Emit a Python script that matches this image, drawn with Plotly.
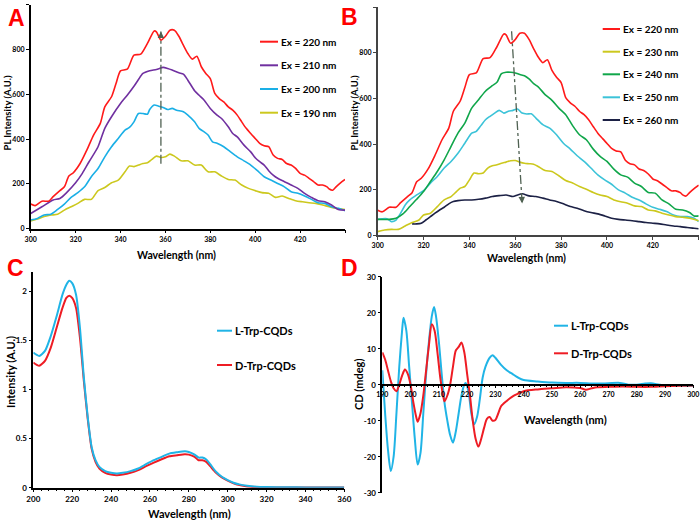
import plotly.graph_objects as go

W, H = 700, 526
FONT = "Lato"

# ---------------- Panel A / B : PL spectra (wavelength nm, intensity) ----------------
ex220 = [(300,110),(302,103),(305,123),(308,123),(310,143),(313,170),(315,187),(317,235),(319,250),
         (322,291),(325,351),(328,418),(331,470),(333,544),(336,589),(338,648),(340,705),(343,712),
         (346,775),(349,779),(352,827),(355,883),(356,879),(358,842),(360,859),(362,886),(364,886),
         (366,859),(368,819),(370,782),(372,757),(374,770),(376,723),(378,693),(380,670),(382,604),
         (384,581),(386,566),(388,544),(390,529),(392,507),(394,477),(396,448),(398,425),(400,403),
         (402,381),(404,370),(406,366),(408,329),(410,314),(412,309),(414,291),(416,284),(418,269),
         (420,247),(422,239),(424,225),(426,210),(428,195),(430,195),(432,187),(433,177),(434.5,172),
         (436,187),(438,205),(440,220)]
ex210 = [(300,68),(305,98),(310,128),(313,135),(316,161),(320,205),(323,247),(326,299),(330,366),
         (333,448),(336,500),(340,559),(343,596),(346,636),(348,666),(350,693),(353,705),(356,711),
         (359,720),(361,715),(363,708),(366,696),(368,690),(370,663),(373,616),(375,596),(377,577),
         (380,537),(383,507),(385,492),(388,455),(390,425),(392,410),(395,373),(398,343),(400,317),
         (402,299),(404,284),(406,259),(408,239),(410,225),(413,210),(416,195),(419,180),(422,158),
         (425,140),(428,125),(431,120),(434,106),(437,86),(440,83)]
ex200 = [(300,39),(303,46),(306,61),(309,65),(312,86),(315,110),(318,140),(321,161),(324,187),
         (327,232),(330,269),(333,321),(336,366),(339,403),(342,440),(344,452),(346,477),(348,514),
         (350,514),(352,511),(353,532),(355,552),(357,547),(359,541),(361,532),(363,537),(365,529),
         (368,522),(370,507),(373,477),(375,448),(377,434),(379,418),(381,388),(383,381),(386,366),
         (389,343),(392,321),(395,303),(398,284),(401,259),(404,232),(407,217),(410,202),(413,187),
         (416,165),(419,158),(422,146),(425,131),(428,116),(431,113),(434,98),(437,91),(440,80)]
ex190 = [(300,34),(303,43),(306,54),(309,61),(312,64),(315,83),(318,98),(321,113),(324,131),
         (327,131),(330,170),(333,184),(336,205),(339,217),(342,254),(344,280),(346,277),(348,284),
         (350,291),(352,294),(354,309),(356,324),(358,318),(360,321),(362,333),(364,324),(367,303),
         (370,303),(373,284),(376,284),(379,254),(382,254),(385,235),(388,220),(391,217),(394,195),
         (397,180),(400,170),(403,161),(406,158),(409,140),(412,146),(415,135),(418,125),(421,120),
         (424,116),(427,113),(430,106),(433,98),(436,91),(440,86)]
ex240 = [(300,70),(305,70),(308,75),(311,94),(314,126),(317,158),(320,192),(323,236),(326,280),
         (329,331),(332,390),(335,448),(338,492),(341,558),(344,595),(347,632),(350,656),(352,671),
         (354,709),(356,715),(358,715),(360,712),(362,705),(364,700),(366,686),(368,665),(370,651),
         (373,617),(376,592),(379,558),(382,529),(385,481),(388,441),(391,419),(394,378),(397,346),
         (400,324),(403,290),(406,265),(409,255),(412,229),(415,214),(418,188),(421,185),(424,155),
         (427,138),(430,114),(433,111),(436,100),(438,85),(440,85)]
ex250 = [(300,70),(304,73),(306,60),(308,67),(310,97),(312,133),(314,155),(317,177),(320,196),
         (323,229),(326,258),(329,295),(332,324),(335,360),(338,404),(341,448),(343,456),(345,481),
         (347,507),(349,522),(351,536),(353,548),(355,536),(357,544),(359,548),(361,554),(363,536),
         (365,532),(367,533),(369,514),(372,485),(375,470),(378,441),(381,404),(384,378),(387,349),
         (390,324),(393,295),(396,265),(399,243),(402,224),(405,199),(408,185),(411,167),(414,155),
         (417,138),(420,123),(423,114),(426,104),(429,89),(432,82),(435,82),(438,75),(440,60)]
ex230 = [(300,16),(303,23),(306,26),(309,26),(312,41),(315,56),(318,67),(320,89),(323,97),
         (326,126),(329,155),(332,170),(334,188),(336,207),(338,214),(340,243),(342,273),(344,270),
         (346,273),(348,295),(350,305),(352,309),(354,316),(356,321),(358,327),(360,328),(362,321),
         (364,316),(366,314),(368,312),(370,302),(373,284),(376,280),(379,261),(382,240),(385,229),
         (388,214),(391,202),(394,188),(397,177),(400,170),(403,155),(406,147),(409,141),(412,129),
         (415,126),(418,111),(421,107),(424,97),(427,89),(430,82),(433,79),(436,75),(440,64)]
ex260 = [(315,50),(317,50),(319,53),(321,67),(323,82),(325,97),(327,111),(329,123),(331,138),
         (333,148),(335,152),(338,155),(341,155),(344,158),(347,163),(350,170),(353,174),(356,177),
         (359,170),(361,177),(363,182),(366,173),(369,170),(372,163),(375,155),(378,148),(381,138),
         (384,126),(387,119),(390,108),(393,100),(396,94),(399,85),(402,75),(405,70),(408,67),
         (411,64),(414,60),(417,56),(420,53),(423,50),(426,45),(429,41),(432,38),(435,34),(438,31),
         (440,29)]

# dash-dot guide arrows (wavelength, intensity): start -> arrow tip
arrow_A = [(358, 290), (358, 880)]
arrow_B = [(358.4, 895), (363, 140)]

# ---------------- Panel C : absorbance ----------------
abs_L = [(200,1.376),(203,1.342),(206,1.393),(209,1.545),(212,1.747),(215,1.966),(217,2.067),
         (218.5,2.108),(220,2.084),(222,1.966),(224,1.629),(226,1.123),(228,0.718),(230,0.415),
         (232,0.28),(234,0.212),(237,0.169),(240,0.152),(243,0.145),(246,0.152),(250,0.169),
         (254,0.196),(258,0.239),(262,0.28),(266,0.314),(270,0.347),(274,0.361),(278,0.371),
         (280,0.364),(283,0.337),(285,0.307),(287,0.307),(289,0.287),(291,0.239),(294,0.162),
         (297,0.111),(300,0.078),(303,0.051),(306,0.034),(310,0.02),(315,0.01),(320,0.007),
         (330,0.004),(340,0.003),(360,0.003)]
abs_D = [(200,1.275),(203,1.241),(206,1.292),(209,1.427),(212,1.629),(215,1.831),(217,1.933),
         (218.5,1.956),(220,1.933),(222,1.831),(224,1.528),(226,1.089),(228,0.701),(230,0.398),
         (232,0.263),(234,0.196),(237,0.152),(240,0.135),(243,0.128),(246,0.135),(250,0.152),
         (254,0.179),(258,0.219),(262,0.256),(266,0.29),(270,0.32),(274,0.331),(278,0.341),
         (280,0.337),(283,0.314),(285,0.28),(287,0.28),(289,0.263),(291,0.219),(294,0.152),
         (297,0.105),(300,0.071),(303,0.044),(306,0.027),(310,0.013),(315,0.007),(320,0.003),
         (330,0.003),(340,0.003),(360,0.003)]

# ---------------- Panel D : CD ----------------
cd_L = [(190,4),(191,-8),(192,-18),(193,-24),(194,-20),(195,-8),(196,5),(197,15),(197.5,18.6),
        (198.5,15),(199.5,5),(200.5,-5),(201.5,-15),(202.5,-22.2),(203.5,-19),(204.5,-8),(205.5,3),
        (206.5,12),(207.5,19),(208.3,21.6),(209,19),(210,12),(211,3),(212,-5),(213,-10),(214,-14),
        (215,-16.1),(216,-13),(217,-8),(218,-3),(219,0),(219.5,0.5),(220.5,-2),(221.5,-8),
        (222.5,-11),(223.5,-9),(224.5,-4),(225.5,2),(226.5,5),(228,7.5),(229,8.2),(230,7.5),
        (232,5.5),(234,4),(236,3),(238,2),(240,1.3),(245,0.9),(250,0.6),(255,0.5),(260,0.5),
        (265,0.3),(270,0.4),(274,0.5),(277,0),(280,0),(283,0.3),(285,0.4),(288,0),(290,-0.2),
        (295,-0.2),(300,-0.3)]
cd_D = [(190,9),(191,7),(192,4),(193,1),(194,-1),(195,-1.8),(196,0),(197,2.5),(198,4.2),(199,3),
        (200,0),(201,-5),(202,-9),(202.5,-10.3),(203.5,-8),(204.5,-3),(205.5,4),(206.5,11),
        (207.5,16.8),(208.5,15),(209.5,9),(210.5,2),(211.5,-3),(212,-4.6),(213,-3),(214,0),(215,5),
        (216,9.5),(217,10.5),(218,11.7),(219,9),(220,3),(221,-3),(222,-10),(223,-15),(224,-17.2),
        (225,-15),(226,-12),(227,-9.5),(228,-9),(229,-10),(230,-9.8),(231,-8),(232,-6),(234,-4.5),
        (236,-3.3),(238,-2.5),(240,-1.8),(245,-1.3),(250,-1),(255,-0.7),(258,-0.8),(260,-0.9),
        (262,-1.4),(264,-1),(266,-0.7),(270,-0.6),(275,-0.5),(280,-0.6),(285,-0.6),(290,-0.4),
        (295,-0.3),(300,-0.2)]

# colours
RED = "#FF1A1A"
PURPLE = "#7030A0"
BLUE = "#1AAFE6"
YELLOW = "#CCC81E"
GREEN = "#10A64A"
CYAN = "#3CC3D8"
NAVY = "#1C2145"
L_BLUE = "#20B4E6"
D_RED = "#EE1C24"
GUIDE = "#4F6152"

fig = go.Figure()


def xs(d):
    return [p[0] for p in d]


def ys(d):
    return [p[1] for p in d]


def add(d, color, xa, ya, width, sm=0.7):
    fig.add_trace(go.Scatter(x=xs(d), y=ys(d), mode="lines",
                             line=dict(color=color, width=width, shape="spline", smoothing=sm),
                             xaxis=xa, yaxis=ya, showlegend=False, hoverinfo="skip"))


# panel A (draw bottom to top)
add(ex190, YELLOW, "x", "y", 1.6)
add(ex200, BLUE, "x", "y", 1.6)
add(ex210, PURPLE, "x", "y", 1.6)
add(ex220, RED, "x", "y", 1.6)
# panel B
add(ex260, NAVY, "x2", "y2", 1.6)
add(ex250, CYAN, "x2", "y2", 1.6)
add(ex230, YELLOW, "x2", "y2", 1.6)
add(ex240, GREEN, "x2", "y2", 1.6)
add(ex220, RED, "x2", "y2", 1.6)
# panel C
add(abs_D, D_RED, "x3", "y3", 2.0, 0.6)
add(abs_L, L_BLUE, "x3", "y3", 2.0, 0.6)
# panel D
add(cd_L, L_BLUE, "x4", "y4", 2.0, 0.8)
add(cd_D, D_RED, "x4", "y4", 2.0, 0.8)


def px(x):
    return x / W


def py(y):
    return 1 - y / H


tickfont_small = dict(family=FONT, size=7, color="black", weight="bold")
tickfont_mid = dict(family=FONT, size=8, color="black", weight="bold")


def axis(dom, rng, tickvals, ticktext, font, anchor, linecolor="black", **kw):
    d = dict(domain=dom, range=rng, tickvals=tickvals, ticktext=ticktext, tickfont=font,
             showgrid=False, zeroline=False, showline=True, linecolor=linecolor, linewidth=1.5,
             ticks="outside", ticklen=3, tickwidth=1, tickcolor=linecolor, anchor=anchor,
             automargin=False, fixedrange=True)
    d.update(kw)
    return d


wlAB = [300, 320, 340, 360, 380, 400, 420, 440]
wlAB_txt = ["300", "320", "340", "360", "380", "400", "420", ""]
plv = [0, 200, 400, 600, 800, 1000]
plt = ["0", "200", "400", "600", "800", ""]

fig.update_layout(
    width=W, height=H, margin=dict(l=0, r=0, t=0, b=0),
    paper_bgcolor="white", plot_bgcolor="white", showlegend=False,
    xaxis=axis([px(30.7), px(345)], [300, 440], wlAB, wlAB_txt, tickfont_small, "y"),
    yaxis=axis([py(228.7), py(4.7)], [0, 1000], plv, plt, tickfont_small, "x"),
    xaxis2=axis([px(377.7), px(698.7)], [300, 440], wlAB, wlAB_txt, tickfont_small, "y2",
                linecolor="#444444"),
    yaxis2=axis([py(235.3), py(7.3)], [0, 1000], plv, plt, tickfont_small, "x2",
                linecolor="#444444"),
    xaxis3=axis([px(33.3), px(344.3)], [200, 360], [200, 220, 240, 260, 280, 300, 320, 340, 360],
                ["200", "220", "240", "260", "280", "300", "320", "340", "360"], tickfont_mid, "y3",
                minor=dict(ticks="outside", dtick=4, ticklen=2, tickcolor="black")),
    yaxis3=axis([py(487.7), py(271.7)], [0, 2.2], [0, 0.5, 1, 1.5, 2], ["0", "0.5", "1", "1.5", "2"],
                tickfont_mid, "x3"),
    xaxis4=axis([px(382.3), px(693.3)], [190, 300], list(range(190, 301, 10)),
                [str(v) for v in range(190, 301, 10)], tickfont_small, "free",
                position=py(384.7),
                minor=dict(ticks="outside", dtick=2, ticklen=2, tickcolor="black")),
    yaxis4=axis([py(492.7), py(276.7)], [-30, 30], [-30, -20, -10, 0, 10, 20, 30],
                ["-30", "-20", "-10", "0", "10", "20", "30"], tickfont_mid, "x4"),
)

# guide arrows (dash-dot line + arrow head)
for (a, xr, yr) in [(arrow_A, "x", "y"), (arrow_B, "x2", "y2")]:
    (x0, y0), (x1, y1) = a
    fig.add_shape(type="line", xref=xr, yref=yr, x0=x0, y0=y0, x1=x1, y1=y1,
                  line=dict(color=GUIDE, width=1.3, dash="dashdot"))
    fig.add_annotation(xref=xr, yref=yr, axref=xr, ayref=yr, x=x1, y=y1,
                       ax=x1 - (x1 - x0) * 0.04, ay=y1 - (y1 - y0) * 0.04,
                       showarrow=True, arrowhead=2, arrowsize=1, arrowwidth=1.3,
                       arrowcolor=GUIDE, text="")

# legends (manual)
legA = [("Ex = 220 nm", RED), ("Ex = 210 nm", PURPLE), ("Ex = 200 nm", BLUE), ("Ex = 190 nm", YELLOW)]
legA_y = [41.7, 65.3, 89, 112.7]
legB = [("Ex = 220 nm", RED), ("Ex = 230 nm", YELLOW), ("Ex = 240 nm", GREEN),
        ("Ex = 250 nm", CYAN), ("Ex = 260 nm", NAVY)]
legB_y = [29, 51.7, 74.3, 97.3, 120]
legC = [("L-Trp-CQDs", L_BLUE), ("D-Trp-CQDs", D_RED)]
legC_y = [330.7, 365]
legD_y = [325.7, 353.3]


def legend(items, ypos, x0, x1, size, lw):
    for (txt, col), yy in zip(items, ypos):
        fig.add_shape(type="line", xref="paper", yref="paper", x0=px(x0), x1=px(x1),
                      y0=py(yy), y1=py(yy), line=dict(color=col, width=lw))
        fig.add_annotation(xref="paper", yref="paper", x=px(x1 + 0.5), y=py(yy),
                           xanchor="left", yanchor="middle", showarrow=False,
                           text="<b>%s</b>" % txt, font=dict(family=FONT, size=size, color="black"))


legend(legA, legA_y, 260, 278, 10, 2)
legend(legB, legB_y, 602.7, 620, 10, 2)
legend(legC, legC_y, 217, 232, 11, 2)
legend(legC, legD_y, 554, 568, 11, 2)


def text(t, x, y, size, color="black", angle=0, family=FONT):
    fig.add_annotation(xref="paper", yref="paper", x=px(x), y=py(y), xanchor="center",
                       yanchor="middle", showarrow=False, textangle=angle,
                       text="<b>%s</b>" % t, font=dict(family=family, size=size, color=color))


# panel letters
LET = "Liberation Sans"
text("A", 16.5, 18, 23, "#FF0000", family=LET)
text("B", 349.5, 17, 23, "#FF0000", family=LET)
text("C", 15, 268, 23, "#FF0000", family=LET)
text("D", 349.5, 267.5, 23, "#FF0000", family=LET)

# axis titles
text("PL Intensity (A.U.)", 6.5, 113, 9.5, angle=-90)
text("Wavelength (nm)", 177, 255, 10.5)
text("PL Intensity (A.U.)", 353.5, 113, 9.5, angle=-90)
text("Wavelength (nm)", 526, 258, 10.5)
text("Intensity (A.U.)", 10, 372, 11, angle=-90)
text("Wavelength (nm)", 190, 513, 11)
text("CD (mdeg)", 358, 385, 11, angle=-90)
text("Wavelength (nm)", 565, 419, 11)

fig.write_html("out.html")
